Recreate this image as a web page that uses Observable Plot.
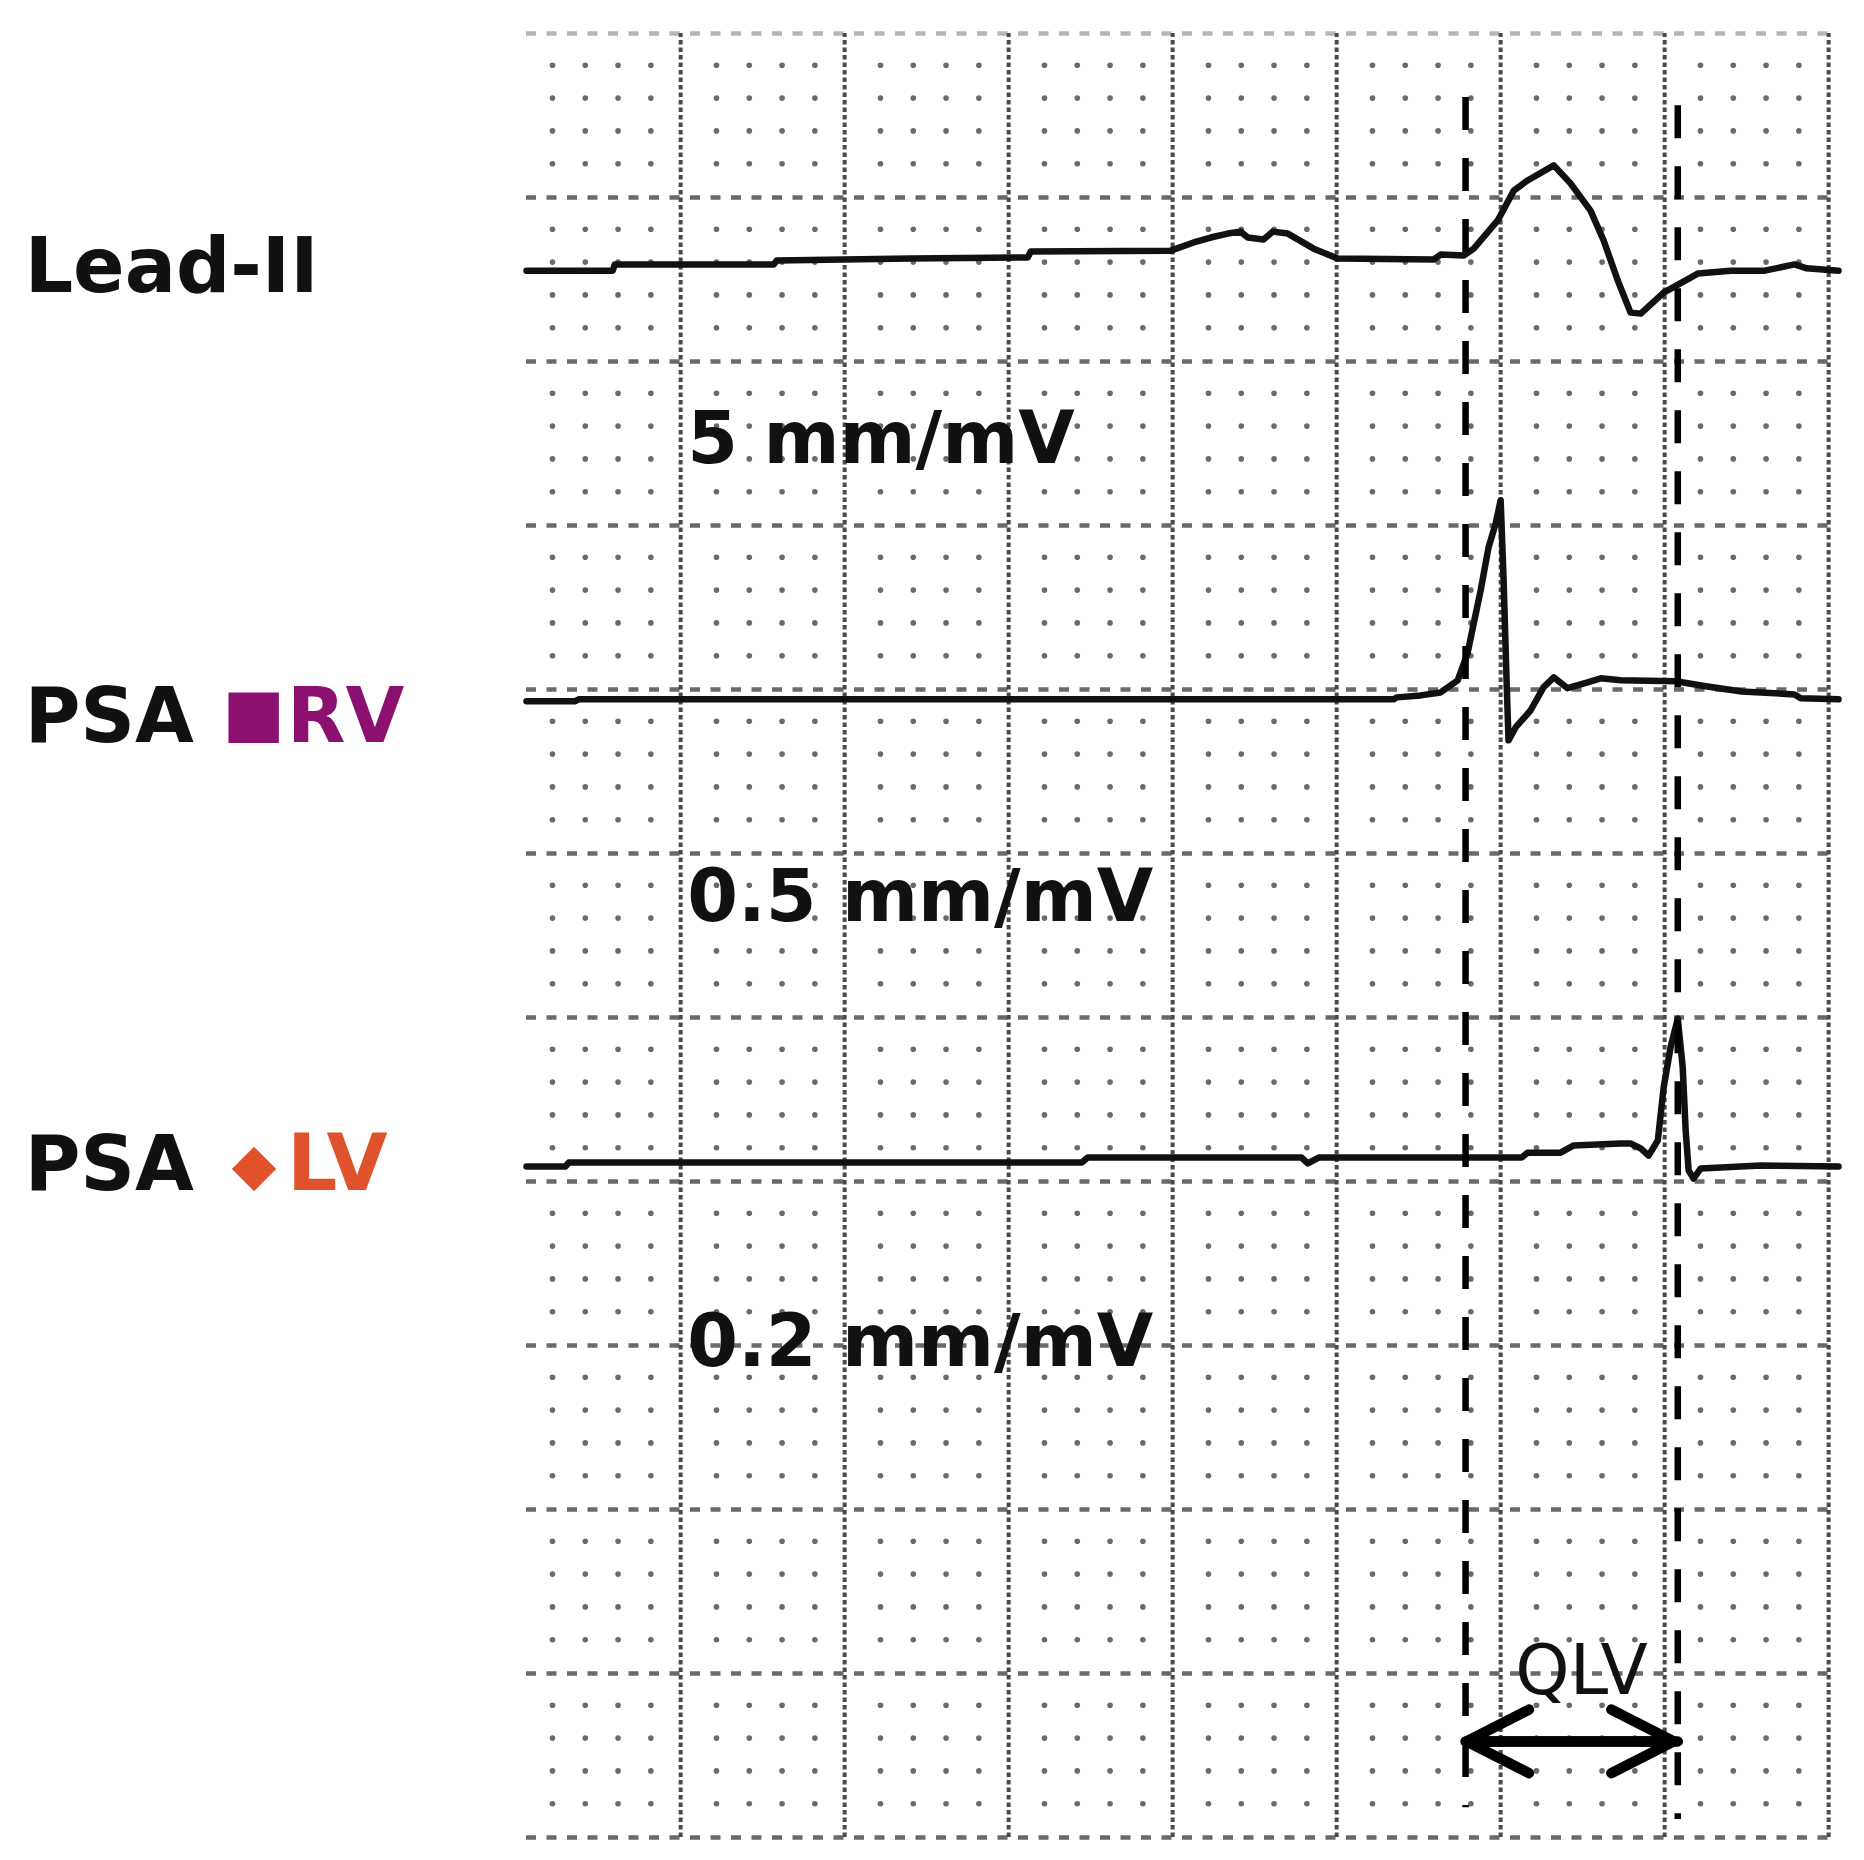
<!DOCTYPE html>
<html>
<head>
<meta charset="utf-8">
<script src="https://cdn.jsdelivr.net/npm/d3@7"></script>
<script src="https://cdn.jsdelivr.net/npm/@observablehq/plot@0.6"></script>
<style>
  html, body { margin: 0; padding: 0; background: #fff; overflow: hidden; }
  #chart svg { display: block; }
</style>
</head>
<body>
<div id="chart"></div>
<script>
// ---- data (time in grid mm, x = 0 at first major line; deflection in mm, + is up) ----
const leadNames = ["Lead-II", "PSA", "PSA"];
const leadSymbols = ["", "■", "◆"];
const leadSites = ["", "RV", "LV"];
const leadColors = ["#111111", "#8c1070", "#e0522c"];
const leadGains = ["5 mm/mV", "0.5 mm/mV", "0.2 mm/mV"];
const leadBaselines = [48.14, 34.70, 20.58];

const leadIITrace = [
  [-4.70,-0.37],[-2.07,-0.37],[-2.01,-0.18],[2.84,-0.18],[2.93,-0.06],[7.01,0],[10.58,0.03],[10.67,0.21],
  [14.94,0.24],[15.64,0.49],[16.16,0.64],[16.68,0.76],[17.07,0.82],[17.29,0.64],[17.77,0.58],[18.05,0.82],
  [18.51,0.76],[19.30,0.30],[20.03,0],[22.96,-0.03],[23.17,0.12],[23.87,0.09],[24.18,0.30],[24.91,1.16],
  [25.40,2.07],[25.82,2.38],[26.62,2.84],[27.13,2.29],[27.74,1.46],[28.14,0.55],[28.57,-0.67],[28.96,-1.65],
  [29.27,-1.68],[29.97,-1.04],[31.01,-0.46],[32.01,-0.37],[33.05,-0.37],[33.96,-0.18],[34.33,-0.30],[35.30,-0.37]
];
const rvTrace = [
  [-4.70,-0.06],[-3.23,-0.06],[-3.11,0],[21.74,0],[21.83,0.06],[22.56,0.12],[23.17,0.21],[23.69,0.58],
  [23.99,1.40],[24.18,2.32],[24.39,3.32],[24.63,4.63],[24.85,5.37],[25.00,6.07],[25.09,3.63],[25.18,0.58],
  [25.24,-1.25],[25.46,-0.85],[25.91,-0.34],[26.31,0.37],[26.62,0.67],[27.04,0.34],[27.65,0.52],[28.05,0.64],
  [28.66,0.58],[30.34,0.55],[31.25,0.40],[32.35,0.24],[33.96,0.15],[34.15,0.03],[35.30,0]
];
const lvTrace = [
  [-4.70,-0.12],[-3.51,-0.12],[-3.41,0],[12.23,0],[12.41,0.15],[18.93,0.15],[19.12,-0.03],[19.45,0.15],
  [25.64,0.15],[25.82,0.30],[26.83,0.30],[27.23,0.52],[28.66,0.58],[28.96,0.58],[29.27,0.43],[29.51,0.21],
  [29.79,0.67],[29.97,2.29],[30.18,3.51],[30.40,4.39],[30.55,2.90],[30.64,0.98],[30.73,-0.24],[30.88,-0.49],
  [31.10,-0.18],[32.93,-0.09],[35.30,-0.12]
];
const markerTimes = [23.93, 30.40];   // QRS onset, LV activation
const intervalLabel = "QLV";

// ---- layout ----
const W = 1864, H = 1860;
const xDomain = [-4.70, 35.30];
const yDomain = [0, 55];
const mLeft = 526, mTop = 33, mRight = 26, mBottom = 23;

const traces = [leadIITrace, rvTrace, lvTrace];
const lines = traces.flatMap((t, i) => t.map(([x, d]) => ({lead: i, x, y: leadBaselines[i] + d})));

const majorX = d3.range(0, 36, 5);
const majorY = d3.range(0, 56, 5);
const minor = [];
for (let x = -4; x <= 35; x++) {
  if (x % 5 === 0) continue;
  for (let y = 1; y < 55; y++) {
    if (y % 5 === 0) continue;
    minor.push({x, y});
  }
}

const nameDrop = [1.01, 1.29, 0.85];
const nameLabels = leadNames.map((t, i) => ({text: t, x: -20.0, y: leadBaselines[i] - nameDrop[i]}));
const siteLabels = leadSites.map((t, i) => ({text: t, x: -12.0, y: leadBaselines[i] - nameDrop[i], c: leadColors[i], size: [76, 76, 79][i]})).filter(d => d.text);
const symbolLayout = [null, {x: -13.97, y: 33.6, size: 66}, {x: -13.69, y: 19.92, size: 58}];
const symbolLabels = leadSymbols.map((t, i) => t ? ({text: t, c: leadColors[i], ...symbolLayout[i]}) : null).filter(Boolean);
const gainLabels = leadGains.map((t, i) => ({text: t, x: 0.2, y: [41.92, 27.93, 14.39][i]}));

const markerExtents = [[53.05, 0.91], [52.80, 0.55]];
const markers = markerTimes.map((x, i) => ({x, y1: markerExtents[i][0], y2: markerExtents[i][1]}));
const arrowY = 2.93;

const chart = Plot.plot({
  width: W,
  height: H,
  marginLeft: mLeft,
  marginTop: mTop,
  marginRight: mRight,
  marginBottom: mBottom,
  x: {domain: xDomain, axis: null},
  y: {domain: yDomain, axis: null},
  style: {background: "#fff", fontFamily: "DejaVu Sans", overflow: "visible"},
  marks: [
    Plot.dot(minor, {x: "x", y: "y", r: 2.8, fill: "#6a6a6a", stroke: null, dx: 3, dy: -1}),
    Plot.ruleY(majorY.filter(y => y !== 55), {y: d => d, x1: xDomain[0], x2: xDomain[1], stroke: "#6a6a6a", strokeWidth: 4.5, strokeDasharray: "10,10.5"}),
    Plot.ruleY([55], {y: d => d, x1: xDomain[0], x2: xDomain[1], stroke: "#b5b5b5", strokeWidth: 4.5, strokeDasharray: "10,10.5"}),
    Plot.ruleX(majorX, {x: d => d, y1: 0, y2: 55, stroke: "#4a4a4a", strokeWidth: 4, strokeDasharray: "4.5,3"}),
    Plot.line(lines, {x: "x", y: "y", z: "lead", stroke: "#111", strokeWidth: 6.5, strokeLinejoin: "round", strokeLinecap: "round"}),
    Plot.ruleX(markers, {x: "x", y1: "y1", y2: "y2", stroke: "#000", strokeWidth: 6.5, strokeDasharray: "33,28"}),
    Plot.arrow([{x1: markerTimes[0], x2: markerTimes[1]}], {x1: "x1", x2: "x2", y1: arrowY, y2: arrowY, stroke: "#000", strokeWidth: 10.5, headLength: 10, headAngle: 54, insetEnd: 4, strokeLinecap: "round"}),
    Plot.arrow([{x1: markerTimes[1], x2: markerTimes[0]}], {x1: "x1", x2: "x2", y1: arrowY, y2: arrowY, stroke: "#000", strokeWidth: 10.5, headLength: 10, headAngle: 54, insetEnd: 1, strokeLinecap: "round"}),
    Plot.text([{text: intervalLabel, x: (markerTimes[0] + markerTimes[1]) / 2 + 0.3}], {x: "x", y: 4.36, text: "text", fontSize: 69, fontFamily: "DejaVu Sans", fill: "#111", lineAnchor: "bottom", textAnchor: "middle"}),
    Plot.text(nameLabels, {x: "x", y: "y", text: "text", fontSize: 76, fontWeight: "bold", fill: "#111", textAnchor: "start", lineAnchor: "bottom"}),
    Plot.text(symbolLabels, {x: "x", y: "y", text: "text", fontSize: d => d.size, fontWeight: "bold", fill: d => d.c, textAnchor: "start", lineAnchor: "bottom"}),
    Plot.text(siteLabels, {x: "x", y: "y", text: "text", fontSize: d => d.size, fontWeight: "bold", fill: d => d.c, textAnchor: "start", lineAnchor: "bottom"}),
    Plot.text(gainLabels, {x: "x", y: "y", text: "text", fontSize: 73, fontWeight: "bold", fill: "#111", textAnchor: "start", lineAnchor: "bottom"})
  ]
});
document.getElementById("chart").appendChild(chart);
</script>
</body>
</html>
